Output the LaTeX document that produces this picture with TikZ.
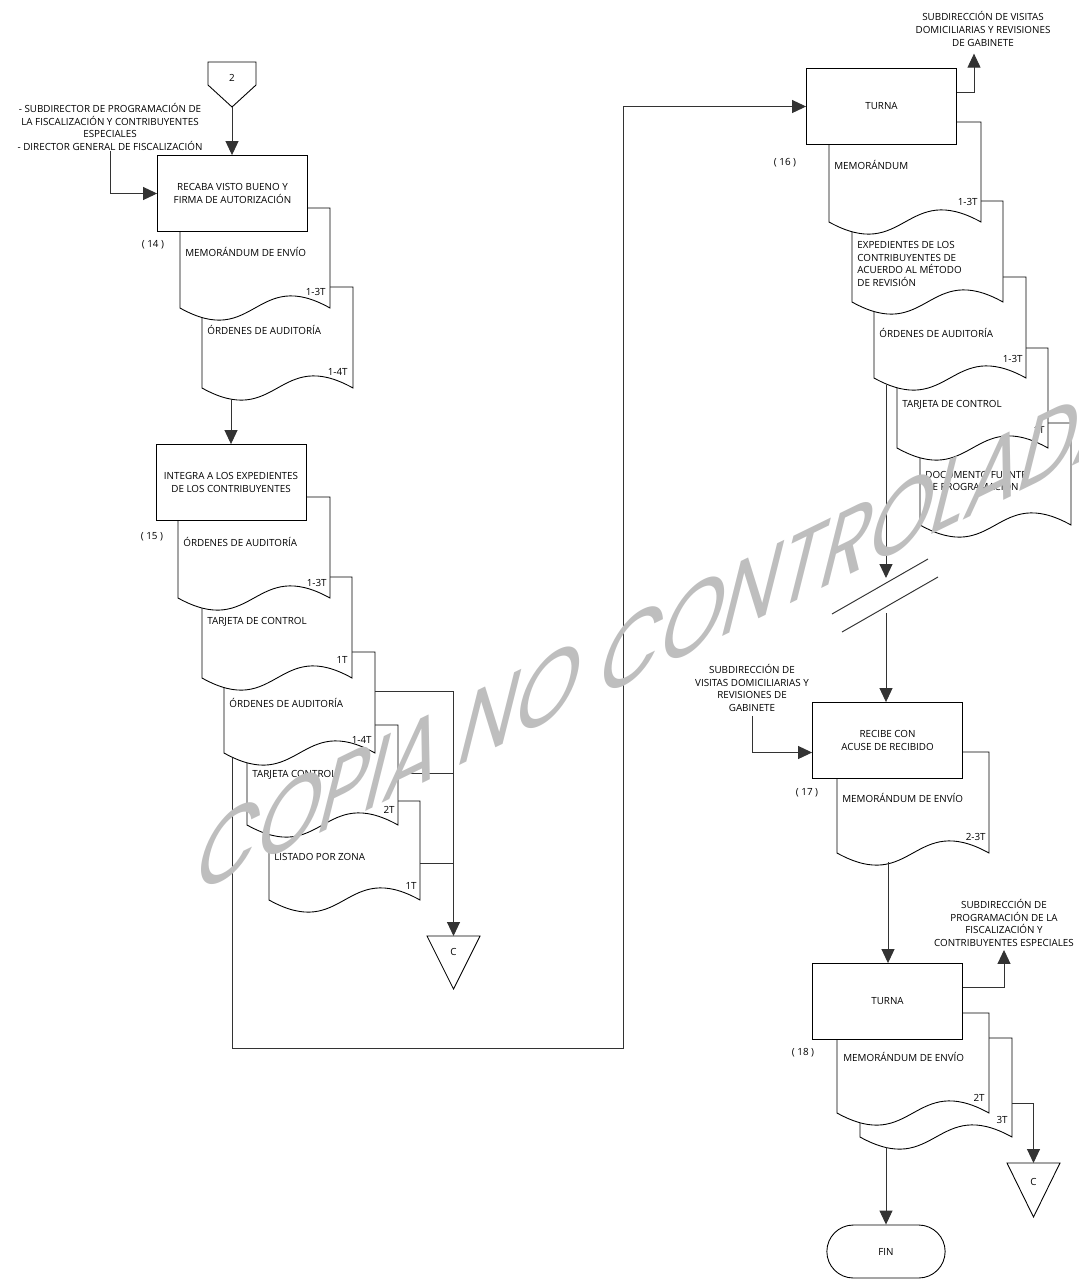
\documentclass[tikz,border=0pt]{standalone}
\usepackage{fontspec}
\setmainfont{Open Sans}
\newfontfamily\stampfont{Poppins}
\usetikzlibrary{arrows.meta, calc, shapes.misc}
\definecolor{lineink}{HTML}{000000}
\definecolor{wiregray}{HTML}{333333}
\definecolor{stampgray}{HTML}{BEBEBE}
\tikzset{
  arr/.style={-{Triangle[length=0.28cm, width=0.26cm]}, line width=0.55pt, wiregray},
  wire/.style={line width=0.55pt, wiregray},
  taskbox/.style={rectangle, draw=lineink, fill=white, line width=0.5pt, minimum width=3cm, minimum height=1.52cm, inner sep=0pt, align=center},
  docline/.style={draw=lineink, fill=white, line width=0.5pt},
  doctext/.style={anchor=west, inner sep=0pt, align=left},
  copytag/.style={anchor=east, inner sep=0pt},
  stepnum/.style={inner sep=0pt},
  sidelabel/.style={align=center, inner sep=0pt},
}
% document symbol: left, top, right, base line of the wave
\newcommand{\docshape}[4]{%
  \draw[docline] (#1,#4) -- (#1,#2) -- (#3,#2) -- (#3,#4)
    .. controls ($(#1,#4)!0.5!(#3,#4)+(0,-42)$) and ($(#1,#4)!0.5!(#3,#4)+(0,42)$) .. (#1,#4) -- cycle;}

\begin{document}
\begin{tikzpicture}[x=0.02cm, y=-0.02cm, font=\fontsize{5.6}{7.2}\selectfont]
  \useasboundingbox (0,0) rectangle (1079,1279);

  % Off-page connector 2
  \draw[docline] (208,62) -- (256,62) -- (256,85) -- (232,107) -- (208,85) -- cycle;
  \node[stepnum] (c2) at (232,78) {2};
  \coordinate (c2tip) at (232,107);

  % Step 14
  \docshape{202}{287}{353}{388}
  \docshape{180}{208}{330}{308}
  \node[taskbox] (b14) at (232.5,193.5) {RECABA VISTO BUENO Y\\FIRMA DE AUTORIZACIÓN};
  \node[sidelabel] (l14) at (110,127) {- SUBDIRECTOR DE PROGRAMACIÓN DE\\LA FISCALIZACIÓN Y CONTRIBUYENTES\\ESPECIALES\\- DIRECTOR GENERAL DE FISCALIZACIÓN};
  \node[stepnum] (n14) at (153,245) {( 14 )};
  \node[doctext] (d14a) at (185,252) {MEMORÁNDUM DE ENVÍO};
  \node[copytag] (t14a) at (326,292) {1-3T};
  \node[doctext] (d14b) at (207,330) {ÓRDENES DE AUDITORÍA};
  \node[copytag] (t14b) at (348,372) {1-4T};
  \coordinate (o14) at (231,399);
  \draw[arr] (c2tip) -- (b14.north -| c2tip);
  \draw[arr] (l14.south) |- (b14.west);

  % Step 15
  \docshape{269}{801}{420}{900}
  \docshape{247}{725}{398}{825}
  \docshape{224}{652}{375}{753}
  \docshape{202}{577}{352}{678}
  \docshape{178}{497}{330}{598}
  \node[taskbox] (b15) at (231,482.5) {INTEGRA A LOS EXPEDIENTES\\DE LOS CONTRIBUYENTES};
  \node[stepnum] (n15) at (152,537) {( 15 )};
  \node[doctext] (d15a) at (183,542) {ÓRDENES DE AUDITORÍA};
  \node[copytag] (t15a) at (327,583) {1-3T};
  \node[doctext] (d15b) at (207,622) {TARJETA DE CONTROL};
  \node[copytag] (t15b) at (348,660) {1T};
  \node[doctext] (d15c) at (229,703) {ÓRDENES DE AUDITORÍA};
  \node[copytag] (t15c) at (372,740) {1-4T};
  \node[doctext] (d15d) at (252,775) {TARJETA CONTROL};
  \node[copytag] (t15d) at (395,810) {2T};
  \node[doctext] (d15e) at (274,857) {LISTADO POR ZONA};
  \node[copytag] (t15e) at (417,886) {1T};
  \draw[arr] (o14) -- (b15.north);

  % File copies to connector C
  \draw[docline] (427,936) -- (480,936) -- (453.5,989) -- cycle;
  \node[stepnum] (cl) at (453.5,952) {C};
  \coordinate (cltop) at (453.5,936);
  \coordinate (o15c) at (375,691);
  \coordinate (o15d) at (398,773);
  \coordinate (o15e) at (420,863);
  \draw[wire] (o15c) -- (o15c -| cltop);
  \draw[wire] (o15d) -- (o15d -| cltop);
  \draw[wire] (o15e) -- (o15e -| cltop);
  \draw[arr] (o15c -| cltop) -- (cltop);

  % Step 16
  \docshape{920}{423}{1071}{525}
  \docshape{897}{348}{1048}{448}
  \docshape{874}{277}{1026}{378}
  \docshape{852}{201}{1003}{302}
  \docshape{829}{122}{981}{222}
  \node[taskbox] (b16) at (881.5,106.5) {TURNA};
  \node[sidelabel] (l16) at (983,29) {SUBDIRECCIÓN DE VISITAS\\DOMICILIARIAS Y REVISIONES\\DE GABINETE};
  \node[stepnum] (n16) at (785,163) {( 16 )};
  \node[doctext] (d16a) at (834,165) {MEMORÁNDUM};
  \node[copytag] (t16a) at (978,202) {1-3T};
  \node[doctext, anchor=north west] (d16b) at (857,241) {EXPEDIENTES DE LOS\\CONTRIBUYENTES DE\\ACUERDO AL MÉTODO\\DE REVISIÓN};
  \node[doctext] (d16c) at (879,333) {ÓRDENES DE AUDITORÍA};
  \node[copytag] (t16c) at (1023,359) {1-3T};
  \node[doctext] (d16d) at (902,405) {TARJETA DE CONTROL};
  \node[copytag] (t16d) at (1045,430) {1T};
  \node[doctext] (d16e) at (925,481) {DOCUMENTO FUENTE\\DE PROGRAMACIÓN};
  \coordinate (o15) at (232,758);
  \draw[arr] (o15) |- (623,1048) |- (b16.west);
  \draw[arr] ($(b16.east)+(0,-14)$) -| ([xshift=-0.18cm, yshift=-0.14cm]l16.south);

  % Break in the flow
  \coordinate (o16) at (886,385);
  \coordinate (brk) at (886,578);
  \coordinate (brk2) at (886,613);
  \draw[arr] (o16) -- (brk);
  \draw[wire] (832,614) -- (928,559);
  \draw[wire] (842,632) -- (938,577);

  % Step 17
  \docshape{837}{752}{989}{853}
  \node[taskbox] (b17) at (887.5,740.5) {RECIBE CON\\ACUSE DE RECIBIDO};
  \node[sidelabel] (l17) at (752,688) {SUBDIRECCIÓN DE\\VISITAS DOMICILIARIAS Y\\REVISIONES DE\\GABINETE};
  \node[stepnum] (n17) at (807,793) {( 17 )};
  \node[doctext] (d17) at (842,798) {MEMORÁNDUM DE ENVÍO};
  \node[copytag] (t17) at (986,837) {2-3T};
  \coordinate (o17) at (888,862);
  \draw[arr] (brk2) -- (b17.north -| brk2);
  \draw[arr] ([yshift=-0.08cm]l17.south) |- ($(b17.west)+(0,12)$);

  % Step 18
  \docshape{860}{1038}{1012}{1137}
  \docshape{837}{1013}{989}{1113}
  \node[taskbox] (b18) at (887.5,1001.5) {TURNA};
  \node[sidelabel] (l18) at (1004,923) {SUBDIRECCIÓN DE\\PROGRAMACIÓN DE LA\\FISCALIZACIÓN Y\\CONTRIBUYENTES ESPECIALES};
  \node[stepnum] (n18) at (803,1053) {( 18 )};
  \node[doctext] (d18a) at (843,1057) {MEMORÁNDUM DE ENVÍO};
  \node[copytag] (t18a) at (985,1098) {2T};
  \node[copytag] (t18b) at (1008,1120) {3T};
  \draw[arr] (o17) -- (b18.north -| o17);
  \draw[arr] ($(b18.east)+(0,-14)$) -| ([yshift=-0.06cm]l18.south);

  % Connector C and end
  \draw[docline] (1007,1163) -- (1060,1163) -- (1033.5,1217) -- cycle;
  \node[stepnum] (cr) at (1033.5,1182) {C};
  \coordinate (crtop) at (1033.5,1163);
  \coordinate (o18b) at (1012,1103);
  \draw[arr] (o18b) -| (crtop);
  \node[rounded rectangle, draw=lineink, line width=0.5pt, minimum width=2.6cm, minimum height=1.06cm] (fin) at (886,1251.5) {FIN};
  \coordinate (o18) at (886,1147);
  \draw[arr] (o18) -- (fin.north);

  % Watermark
  \begin{scope}[shift={(190,897)}]
    \node[transform shape, cm={0.885,0.432,0.3,1.2,(0,0)}, anchor=base west, inner sep=0pt, text=stampgray, font=\stampfont\fontsize{51}{51}\selectfont] (stamp) at (0,0) {COPIA NO CONTROLADA};
  \end{scope}
\end{tikzpicture}
\end{document}
